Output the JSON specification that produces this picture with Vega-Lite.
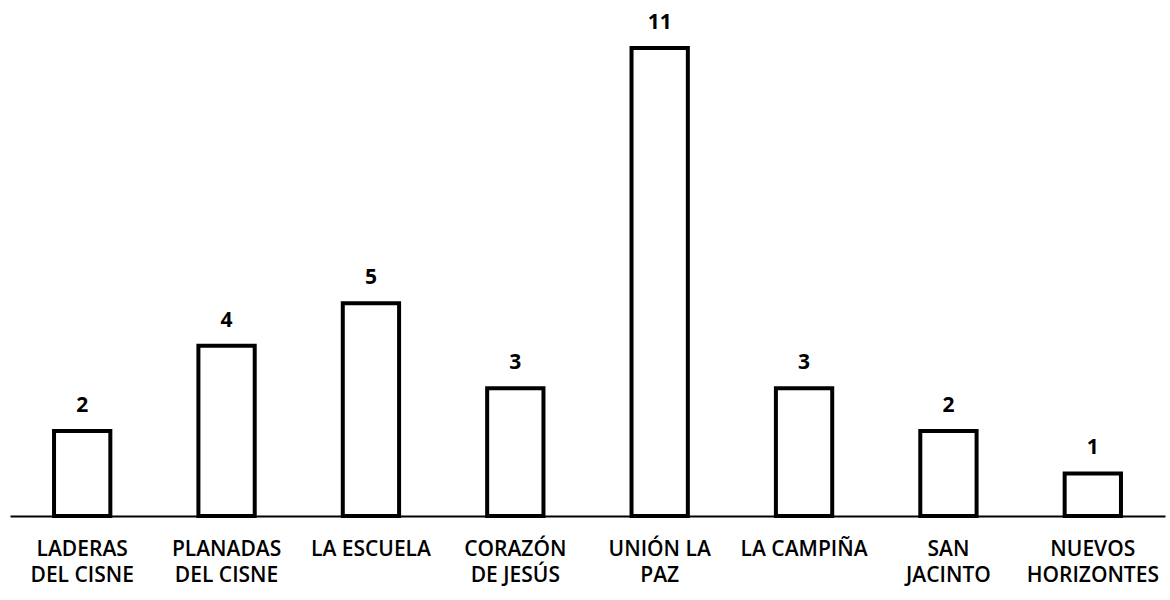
{
  "$schema": "https://vega.github.io/schema/vega-lite/v6.json",
  "width": 1155,
  "height": 468,
  "autosize": {"type": "none"},
  "padding": {"left": 10, "top": 48, "right": 5, "bottom": 84},
  "background": "white",
  "config": {"view": {"stroke": null}, "font": "Open Sans"},
  "data": {
    "values": [
      {"barrio": "LADERAS\nDEL CISNE", "n": 2},
      {"barrio": "PLANADAS\nDEL CISNE", "n": 4},
      {"barrio": "LA ESCUELA", "n": 5},
      {"barrio": "CORAZÓN\nDE JESÚS", "n": 3},
      {"barrio": "UNIÓN LA\nPAZ", "n": 11},
      {"barrio": "LA CAMPIÑA", "n": 3},
      {"barrio": "SAN\nJACINTO", "n": 2},
      {"barrio": "NUEVOS\nHORIZONTES", "n": 1}
    ]
  },
  "encoding": {
    "x": {
      "field": "barrio",
      "type": "nominal",
      "sort": null,
      "scale": {"paddingInner": 0.61, "paddingOuter": 0.305},
      "axis": {
        "title": null,
        "labelAngle": 0,
        "labelExpr": "split(datum.label, '\\n')",
        "labelFontSize": 21,
        "labelFontWeight": 600,
        "labelFont": "Open Sans",
        "labelColor": "black",
        "labelLineHeight": 26,
        "labelPadding": 22,
        "ticks": false,
        "domainColor": "black",
        "domainWidth": 2,
        "labelBaseline": "top"
      }
    },
    "y": {
      "field": "n",
      "type": "quantitative",
      "scale": {"domain": [0, 11], "nice": false},
      "axis": null
    }
  },
  "layer": [
    {
      "mark": {"type": "bar", "fill": "white", "stroke": "black", "strokeWidth": 4}
    },
    {
      "mark": {"type": "text", "baseline": "alphabetic", "dy": -19, "fontSize": 21, "fontWeight": "bold", "font": "Open Sans", "color": "black"},
      "encoding": {"text": {"field": "n", "type": "quantitative"}}
    }
  ]
}
